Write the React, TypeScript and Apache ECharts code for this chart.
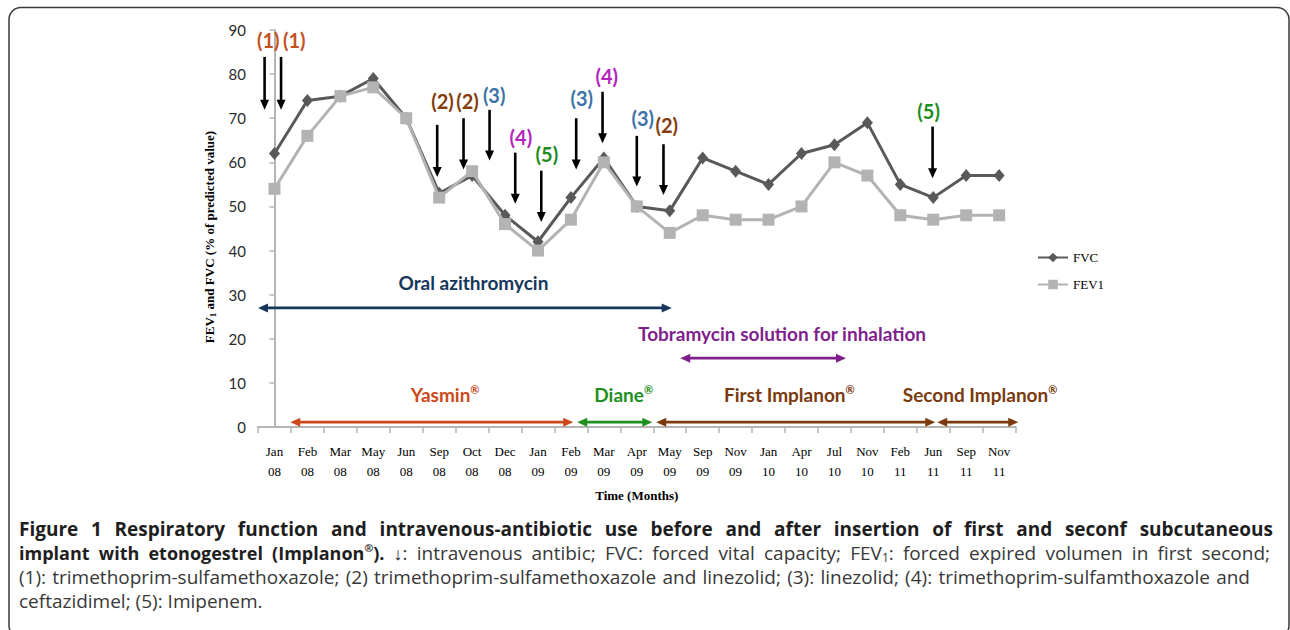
import React, { useEffect, useRef } from 'react';
import * as echarts from 'echarts';

// ---- data ----
const months = [
  'Jan\n08', 'Feb\n08', 'Mar\n08', 'May\n08', 'Jun\n08', 'Sep\n08', 'Oct\n08', 'Dec\n08',
  'Jan\n09', 'Feb\n09', 'Mar\n09', 'Apr\n09', 'May\n09', 'Sep\n09', 'Nov\n09', 'Jan\n10',
  'Apr\n10', 'Jul\n10', 'Nov\n10', 'Feb\n11', 'Jun\n11', 'Sep\n11', 'Nov\n11',
];
const fvc = [62, 74, 75, 79, 70, 53, 57, 48, 42, 52, 61, 50, 49, 61, 58, 55, 62, 64, 69, 55, 52, 57, 57];
const fev1 = [54, 66, 75, 77, 70, 52, 58, 46, 40, 47, 60, 50, 44, 48, 47, 47, 50, 60, 57, 48, 47, 48, 48];

const yMin = 0;
const yMax = 90;
const yStep = 10;

// intravenous antibiotic arrows (x in category-index units, y in % predicted)
const ivLabels = ['(1)', '(1)', '(2)', '(2)', '(3)', '(4)', '(5)', '(3)', '(4)', '(3)', '(2)', '(5)'];
const ivX = [-0.3, 0.2, 4.94, 5.74, 6.53, 7.31, 8.1, 9.16, 9.96, 11.0, 11.81, 19.98];
const ivTop = [83.9, 83.9, 68.5, 70.0, 71.9, 62.2, 58.1, 70.0, 76.0, 66.0, 64.1, 68.1];
const ivBottom = [71.9, 71.9, 56.7, 58.4, 60.4, 50.6, 46.5, 58.4, 64.3, 54.5, 52.6, 56.4];
const ivLabelX = [-0.19, 0.6, 5.1, 5.86, 6.67, 7.48, 8.27, 9.33, 10.09, 11.18, 11.91, 19.86];
const ivLabelY = [87.7, 87.7, 74.0, 74.0, 75.3, 65.8, 61.9, 74.5, 79.6, 70.0, 68.5, 71.7];

// treatment periods
const periodLabels = ['Oral azithromycin', 'Tobramycin solution for inhalation', 'Yasmin', 'Diane', 'First Implanon', 'Second Implanon'];
const periodRegistered = [false, false, true, true, true, true];
const periodStart = [-0.5, 12.32, 0.48, 9.19, 11.59, 20.12];
const periodEnd = [12.06, 17.35, 9.07, 11.47, 20.06, 22.58];
const periodY = [27, 15.6, 1.1, 1.1, 1.1, 1.1];
const periodLabelX = [6.04, 15.41, 5.18, 10.6, 15.63, 21.42];
const periodLabelY = [32.8, 21.1, 7.3, 7.3, 7.3, 7.3];

// caption text (pieces: [text, style])
type Piece = [string, string];
const captionLine1: Piece[][] = 'Figure 1 Respiratory function and intravenous-antibiotic use before and after insertion of first and seconf subcutaneous'
  .split(' ')
  .map((w) => [[w, 'B']]);
const captionLine2: Piece[][] = [
  [['implant', 'b']], [['with', 'b']], [['etonogestrel', 'b']],
  [['(Implanon', 'b'], ['®', 'bs'], [').', 'b']],
  [['↓', 'b'], [':', 'r']],
  ...'intravenous antibic; FVC: forced vital capacity;'.split(' ').map((w) => [[w, 'r']] as Piece[]),
  [['FEV', 'r'], ['1', 'sub'], [':', 'r']],
  ...'forced expired volumen in first second;'.split(' ').map((w) => [[w, 'r']] as Piece[]),
];
const captionLine3: Piece[][] = '(1): trimethoprim-sulfamethoxazole; (2) trimethoprim-sulfamethoxazole and linezolid; (3): linezolid; (4): trimethoprim-sulfamthoxazole and'
  .split(' ')
  .map((w) => [[w, 'r']]);
const captionLine4 = 'ceftazidimel; (5): Imipenem.';

// ---- styles ----
const ivColorMap: Record<string, string> = {
  '(1)': '#c4511f',
  '(2)': '#843c0c',
  '(3)': '#3d73a8',
  '(4)': '#b424c0',
  '(5)': '#1e8b1e',
};
const periodColors = ['#16365c', '#7f1f8c', '#cc4a1a', '#1f8f1f', '#7a3a0e', '#7a3a0e'];
const annoFont = 'Lato, "Liberation Sans", sans-serif';
const serif = '"Liberation Serif", "Times New Roman", serif';
const capFamily = '"Open Sans"';
const capFont = '"Open Sans", "Noto Sans", sans-serif';
const capSize = 19;
const capLine = 21;
const axisGray = '#b5b5b5';
const capStyles: Record<string, { size: number; weight: string; fill: string; va?: string }> = {
  B: { size: 19, weight: 'bold', fill: '#1e1e1e' },
  b: { size: 18, weight: 'bold', fill: '#1e1e1e' },
  bs: { size: 10.5, weight: 'bold', fill: '#1e1e1e', va: 'top' },
  r: { size: capSize, weight: 'normal', fill: '#383838' },
  sub: { size: 12, weight: 'normal', fill: '#383838', va: 'bottom' },
};

function justified(words: Piece[][], target: number) {
  const ctx = document.createElement('canvas').getContext('2d');
  let total = 0;
  let space = 5;
  words.forEach((w) =>
    w.forEach(([t, s]) => {
      if (ctx) {
        ctx.font = `${capStyles[s].weight} ${capStyles[s].size}px ${capFamily}`;
        total += ctx.measureText(t).width;
      } else {
        total += t.length * 10;
      }
    })
  );
  if (ctx) {
    ctx.font = `normal ${capSize}px ${capFamily}`;
    space = ctx.measureText(' ').width;
  }
  const gap = Math.max(space * 0.85, (target - total) / (words.length - 1));
  const text = words.map((w) => w.map(([t, s]) => `{${s}|${t}}`).join('')).join('{g| }');
  const rich: any = { g: { width: gap, fontFamily: capFont, fontSize: capSize, lineHeight: capLine } };
  Object.keys(capStyles).forEach((k) => {
    const st = capStyles[k];
    rich[k] = {
      fontFamily: capFont,
      fontSize: st.size,
      fontWeight: st.weight,
      fill: st.fill,
      lineHeight: capLine,
      ...(st.va ? { verticalAlign: st.va } : {}),
    };
  });
  return { text, rich };
}

export default function App() {
  const ref = useRef<HTMLDivElement>(null);
  useEffect(() => {
    document.body.style.margin = '0';
    const chart = echarts.init(ref.current!, null, { renderer: 'svg' });

    const ivData = ivX.map((x, i) => [x, ivTop[i], ivBottom[i], ivLabelX[i], ivLabelY[i]]);
    const periodData = periodStart.map((s, i) => [s, periodEnd[i], periodY[i], periodLabelX[i], periodLabelY[i]]);

    const cap1 = justified(captionLine1, 1254);
    const cap2 = justified(captionLine2, 1251);
    const cap3 = justified(captionLine3, 1231);

    const option: any = {
      animation: false,
      backgroundColor: '#fff',
      grid: { left: 258, right: 274.4, top: 30, bottom: 203, containLabel: false },
      legend: {
        data: ['FVC', 'FEV1'],
        orient: 'vertical',
        left: 1032,
        top: 246,
        itemWidth: 30,
        itemHeight: 12,
        itemGap: 14,
        textStyle: { fontFamily: serif, fontSize: 13, color: '#000' },
      },
      xAxis: [
        {
          type: 'category',
          data: months,
          boundaryGap: true,
          axisLine: { lineStyle: { color: axisGray, width: 2 } },
          axisTick: { show: true, length: 6, interval: 0, lineStyle: { color: axisGray, width: 1.5 } },
          axisLabel: { interval: 0, fontFamily: serif, fontSize: 13, color: '#000', lineHeight: 20, margin: 14 },
          name: 'Time (Months)',
          nameLocation: 'middle',
          nameGap: 62,
          nameTextStyle: { fontFamily: serif, fontSize: 13, fontWeight: 'bold', color: '#000' },
        },
        { type: 'value', min: -0.5, max: 22.5, show: false },
      ],
      yAxis: {
        type: 'value',
        min: yMin,
        max: yMax,
        interval: yStep,
        splitLine: { show: false },
        axisLine: { show: true, lineStyle: { color: axisGray, width: 2 } },
        axisTick: { show: true, length: 5, lineStyle: { color: axisGray, width: 1.5 } },
        axisLabel: { fontFamily: annoFont, fontSize: 15, color: '#2a2a2a', margin: 12 },
      },
      graphic: [
        {
          type: 'rect',
          shape: { x: 9, y: 7.5, width: 1280, height: 630, r: 12 },
          style: { fill: 'none', stroke: '#3a3a3a', lineWidth: 1.5 },
          silent: true,
        },
        {
          type: 'text',
          x: 209,
          y: 237,
          rotation: Math.PI / 2,
          style: {
            text: '{a|FEV}{s|1}{a| and FVC (% of predicted value)}',
            align: 'center',
            verticalAlign: 'middle',
            rich: {
              a: { fontFamily: serif, fontSize: 13, fontWeight: 'bold', fill: '#000', lineHeight: 16 },
              s: { fontFamily: serif, fontSize: 9, fontWeight: 'bold', fill: '#000', verticalAlign: 'bottom', lineHeight: 16 },
            },
          },
        },
        {
          type: 'text',
          x: 19,
          y: 529,
          style: { text: cap1.text, rich: cap1.rich, align: 'left', verticalAlign: 'middle' },
        },
        {
          type: 'text',
          x: 19,
          y: 553,
          style: { text: cap2.text, rich: cap2.rich, align: 'left', verticalAlign: 'middle' },
        },
        {
          type: 'text',
          x: 19,
          y: 577,
          style: { text: cap3.text, rich: cap3.rich, align: 'left', verticalAlign: 'middle' },
        },
        {
          type: 'text',
          x: 19,
          y: 601,
          style: {
            text: captionLine4,
            fontFamily: capFont,
            fontSize: capSize,
            fill: '#383838',
            align: 'left',
            verticalAlign: 'middle',
          },
        },
      ],
      series: [
        {
          name: 'FVC',
          type: 'line',
          data: fvc,
          symbol: 'diamond',
          symbolSize: [11, 13],
          itemStyle: { color: '#595959' },
          lineStyle: { color: '#595959', width: 3 },
          z: 2,
        },
        {
          name: 'FEV1',
          type: 'line',
          data: fev1,
          symbol: 'rect',
          symbolSize: 12,
          itemStyle: { color: '#b3b3b3' },
          lineStyle: { color: '#b3b3b3', width: 3 },
          z: 3,
        },
        {
          name: 'iv',
          type: 'custom',
          xAxisIndex: 1,
          yAxisIndex: 0,
          clip: false,
          silent: true,
          z: 5,
          data: ivData,
          encode: { x: [0, 3], y: [1, 2, 4] },
          renderItem: (params: any, api: any) => {
            const i = params.dataIndex;
            const x = api.value(0);
            const pTop = api.coord([x, api.value(1)]);
            const pBot = api.coord([x, api.value(2)]);
            const pLab = api.coord([api.value(3), api.value(4)]);
            const head = 10;
            const hw = 4.5;
            const label = ivLabels[i];
            return {
              type: 'group',
              children: [
                {
                  type: 'line',
                  shape: { x1: pTop[0], y1: pTop[1], x2: pBot[0], y2: pBot[1] - head + 1 },
                  style: { stroke: '#000', lineWidth: 2.6 },
                },
                {
                  type: 'polygon',
                  shape: { points: [[pBot[0] - hw, pBot[1] - head], [pBot[0] + hw, pBot[1] - head], [pBot[0], pBot[1]]] },
                  style: { fill: '#000' },
                },
                {
                  type: 'text',
                  x: pLab[0],
                  y: pLab[1],
                  style: {
                    text: label,
                    fill: ivColorMap[label],
                    fontFamily: annoFont,
                    fontSize: 20,
                    fontWeight: 'bold',
                    align: 'center',
                    verticalAlign: 'middle',
                  },
                },
              ],
            };
          },
        },
        {
          name: 'periods',
          type: 'custom',
          xAxisIndex: 1,
          yAxisIndex: 0,
          clip: false,
          silent: true,
          z: 5,
          data: periodData,
          encode: { x: [0, 1, 3], y: [2, 4] },
          renderItem: (params: any, api: any) => {
            const i = params.dataIndex;
            const y = api.value(2);
            const p1 = api.coord([api.value(0), y]);
            const p2 = api.coord([api.value(1), y]);
            const pl = api.coord([api.value(3), api.value(4)]);
            const color = periodColors[i];
            const head = 10;
            const hw = 4.5;
            const text = periodRegistered[i]
              ? `{a|${periodLabels[i]}}{r|®}`
              : `{a|${periodLabels[i]}}`;
            return {
              type: 'group',
              children: [
                {
                  type: 'line',
                  shape: { x1: p1[0] + head - 1, y1: p1[1], x2: p2[0] - head + 1, y2: p2[1] },
                  style: { stroke: color, lineWidth: 2.8 },
                },
                {
                  type: 'polygon',
                  shape: { points: [[p1[0], p1[1]], [p1[0] + head, p1[1] - hw], [p1[0] + head, p1[1] + hw]] },
                  style: { fill: color },
                },
                {
                  type: 'polygon',
                  shape: { points: [[p2[0], p2[1]], [p2[0] - head, p2[1] - hw], [p2[0] - head, p2[1] + hw]] },
                  style: { fill: color },
                },
                {
                  type: 'text',
                  x: pl[0],
                  y: pl[1],
                  style: {
                    text,
                    align: 'center',
                    verticalAlign: 'middle',
                    rich: {
                      a: { fontFamily: annoFont, fontSize: 19, fontWeight: 'bold', fill: color, lineHeight: 22 },
                      r: { fontFamily: annoFont, fontSize: 11, fontWeight: 'bold', fill: color, verticalAlign: 'top', lineHeight: 22 },
                    },
                  },
                },
              ],
            };
          },
        },
      ],
    };

    chart.setOption(option);
    return () => chart.dispose();
  }, []);

  return <div ref={ref} style={{ width: 1290, height: 630, background: '#fff' }} />;
}
